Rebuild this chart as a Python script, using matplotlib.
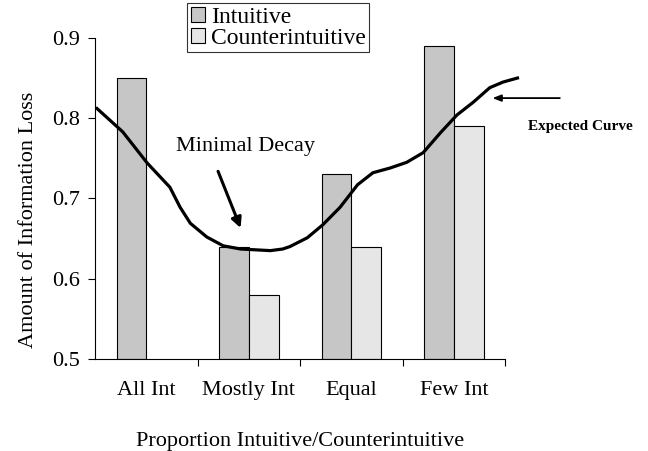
import numpy as np
import matplotlib.pyplot as plt

plt.rcParams['font.family'] = ['Liberation Serif', 'DejaVu Serif']

categories = ['All Int', 'Mostly Int', 'Equal', 'Few Int']
intuitive = [0.85, 0.64, 0.73, 0.89]
counterintuitive = [np.nan, 0.58, 0.64, 0.79]

# hand-drawn "expected curve" (x in category units)
curve_x = [-0.48, -0.23, 0.01, 0.23, 0.33, 0.43, 0.59, 0.75, 0.92, 1.21, 1.33,
           1.40, 1.57, 1.72, 1.89, 2.06, 2.21, 2.38, 2.54, 2.70, 2.87, 3.03,
           3.19, 3.35, 3.48, 3.62]
curve_y = [0.812, 0.783, 0.744, 0.714, 0.689, 0.669, 0.652, 0.641, 0.637, 0.635, 0.637,
           0.640, 0.651, 0.667, 0.689, 0.717, 0.732, 0.738, 0.745, 0.757, 0.782, 0.804,
           0.820, 0.838, 0.845, 0.850]

fig = plt.figure(figsize=(6.48, 4.51), dpi=100)
ax = fig.add_axes([0.1466, 0.204, 0.633, 0.712])

x = np.arange(len(categories))
w = 0.29
b1 = ax.bar(x - w / 2, np.array(intuitive) - 0.5, w, bottom=0.5, color='#c6c6c6',
            edgecolor='black', linewidth=0.8, label='Intuitive')
b2 = ax.bar(x + w / 2, np.array(counterintuitive) - 0.5, w, bottom=0.5, color='#e6e6e6',
            edgecolor='black', linewidth=0.8, label='Counterintuitive')

ax.plot(curve_x, curve_y, color='black', linewidth=2.3, clip_on=False, zorder=5)

ax.set_xlim(-0.5, 3.5)
ax.set_ylim(0.5, 0.9)
ax.set_yticks([0.5, 0.6, 0.7, 0.8, 0.9])
ax.set_yticklabels(['0.5', '0.6', '0.7', '0.8', '0.9'])
ax.set_xticks([0.5, 1.5, 2.5, 3.5])
ax.set_xticklabels([])
ax.set_xticks(x, minor=True)
ax.set_xticklabels(categories, minor=True)
ax.tick_params(axis='x', which='minor', length=0, pad=16, labelsize=16)
ax.tick_params(axis='x', which='major', direction='out', length=5, width=0.8)
ax.tick_params(axis='y', direction='out', length=5, width=0.8, labelsize=16, pad=6)
ax.spines['top'].set_visible(False)
ax.spines['right'].set_visible(False)

ax.set_xlabel('Proportion Intuitive/Counterintuitive', fontsize=16, labelpad=23)
ax.set_ylabel('Amount of Information Loss', fontsize=16)
ax.yaxis.set_label_coords(-0.14, 0.433)

ax.annotate('', xy=(0.93, 0.66), xytext=(0.69, 0.737),
            arrowprops=dict(arrowstyle='-|>,head_length=0.6,head_width=0.3',
                            color='black', lw=2.2))
ax.text(0.97, 0.765, 'Minimal Decay', fontsize=16, ha='center', va='center')

ax.annotate('', xy=(3.35, 0.825), xytext=(4.06, 0.825),
            arrowprops=dict(arrowstyle='-|>,head_length=0.5,head_width=0.2',
                            color='black', lw=1.3), annotation_clip=False)
ax.text(3.72, 0.789, 'Expected Curve', fontsize=11, fontweight='bold',
        ha='left', va='center')

leg = fig.legend(handles=[b1, b2], loc='upper left', bbox_to_anchor=(0.2886, 0.993),
                 fontsize=17, frameon=True, fancybox=False, borderaxespad=0,
                 handlelength=0.6, handleheight=0.6, handletextpad=0.25,
                 borderpad=0.15, labelspacing=0.0)
leg.get_frame().set_edgecolor('black')
leg.get_frame().set_linewidth(0.8)

fig.savefig('out.png', dpi=100)
